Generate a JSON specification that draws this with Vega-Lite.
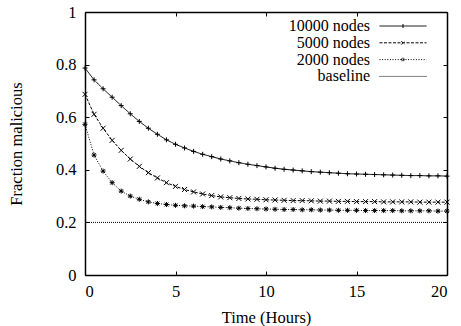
{
  "$schema": "https://vega.github.io/schema/vega-lite/v6.json",
  "autosize": "none",
  "width": 362,
  "height": 263,
  "padding": {"left": 85, "top": 12, "right": 14, "bottom": 51},
  "background": "white",
  "config": {
    "view": {"stroke": null},
    "font": "Liberation Serif",
    "axis": {
      "labelFont": "Liberation Serif",
      "titleFont": "Liberation Serif",
      "labelFontSize": 16.5,
      "titleFontSize": 16.5,
      "labelColor": "black",
      "titleColor": "black",
      "titleFontWeight": "normal",
      "grid": false,
      "domainColor": "black",
      "domainWidth": 1.5,
      "tickColor": "black",
      "tickWidth": 1,
      "tickSize": -4
    },
    "legend": {
      "labelFont": "Liberation Serif",
      "labelFontSize": 16.5,
      "labelColor": "black"
    }
  },
  "datasets": {
    "curves": [
      {"series":"10000 nodes","t":0,"v":0.787},{"series":"10000 nodes","t":0.5,"v":0.742},{"series":"10000 nodes","t":1,"v":0.708},{"series":"10000 nodes","t":1.5,"v":0.676},{"series":"10000 nodes","t":2,"v":0.644},{"series":"10000 nodes","t":2.5,"v":0.613},{"series":"10000 nodes","t":3,"v":0.584},{"series":"10000 nodes","t":3.5,"v":0.558},{"series":"10000 nodes","t":4,"v":0.535},{"series":"10000 nodes","t":4.5,"v":0.514},{"series":"10000 nodes","t":5,"v":0.497},{"series":"10000 nodes","t":5.5,"v":0.483},{"series":"10000 nodes","t":6,"v":0.470},{"series":"10000 nodes","t":6.5,"v":0.459},{"series":"10000 nodes","t":7,"v":0.450},{"series":"10000 nodes","t":7.5,"v":0.441},{"series":"10000 nodes","t":8,"v":0.434},{"series":"10000 nodes","t":8.5,"v":0.427},{"series":"10000 nodes","t":9,"v":0.421},{"series":"10000 nodes","t":9.5,"v":0.416},{"series":"10000 nodes","t":10,"v":0.411},{"series":"10000 nodes","t":10.5,"v":0.406},{"series":"10000 nodes","t":11,"v":0.402},{"series":"10000 nodes","t":11.5,"v":0.399},{"series":"10000 nodes","t":12,"v":0.396},{"series":"10000 nodes","t":12.5,"v":0.393},{"series":"10000 nodes","t":13,"v":0.391},{"series":"10000 nodes","t":13.5,"v":0.389},{"series":"10000 nodes","t":14,"v":0.387},{"series":"10000 nodes","t":14.5,"v":0.385},{"series":"10000 nodes","t":15,"v":0.384},{"series":"10000 nodes","t":15.5,"v":0.383},{"series":"10000 nodes","t":16,"v":0.382},{"series":"10000 nodes","t":16.5,"v":0.381},{"series":"10000 nodes","t":17,"v":0.380},{"series":"10000 nodes","t":17.5,"v":0.379},{"series":"10000 nodes","t":18,"v":0.378},{"series":"10000 nodes","t":18.5,"v":0.378},{"series":"10000 nodes","t":19,"v":0.377},{"series":"10000 nodes","t":19.5,"v":0.377},{"series":"10000 nodes","t":20,"v":0.376},
      {"series":"5000 nodes","t":0,"v":0.687},{"series":"5000 nodes","t":0.5,"v":0.611},{"series":"5000 nodes","t":1,"v":0.558},{"series":"5000 nodes","t":1.5,"v":0.512},{"series":"5000 nodes","t":2,"v":0.474},{"series":"5000 nodes","t":2.5,"v":0.441},{"series":"5000 nodes","t":3,"v":0.413},{"series":"5000 nodes","t":3.5,"v":0.389},{"series":"5000 nodes","t":4,"v":0.369},{"series":"5000 nodes","t":4.5,"v":0.351},{"series":"5000 nodes","t":5,"v":0.337},{"series":"5000 nodes","t":5.5,"v":0.325},{"series":"5000 nodes","t":6,"v":0.316},{"series":"5000 nodes","t":6.5,"v":0.308},{"series":"5000 nodes","t":7,"v":0.302},{"series":"5000 nodes","t":7.5,"v":0.297},{"series":"5000 nodes","t":8,"v":0.294},{"series":"5000 nodes","t":8.5,"v":0.291},{"series":"5000 nodes","t":9,"v":0.289},{"series":"5000 nodes","t":9.5,"v":0.288},{"series":"5000 nodes","t":10,"v":0.286},{"series":"5000 nodes","t":10.5,"v":0.285},{"series":"5000 nodes","t":11,"v":0.284},{"series":"5000 nodes","t":11.5,"v":0.283},{"series":"5000 nodes","t":12,"v":0.283},{"series":"5000 nodes","t":12.5,"v":0.282},{"series":"5000 nodes","t":13,"v":0.281},{"series":"5000 nodes","t":13.5,"v":0.281},{"series":"5000 nodes","t":14,"v":0.280},{"series":"5000 nodes","t":14.5,"v":0.280},{"series":"5000 nodes","t":15,"v":0.279},{"series":"5000 nodes","t":15.5,"v":0.279},{"series":"5000 nodes","t":16,"v":0.279},{"series":"5000 nodes","t":16.5,"v":0.278},{"series":"5000 nodes","t":17,"v":0.278},{"series":"5000 nodes","t":17.5,"v":0.278},{"series":"5000 nodes","t":18,"v":0.278},{"series":"5000 nodes","t":18.5,"v":0.277},{"series":"5000 nodes","t":19,"v":0.277},{"series":"5000 nodes","t":19.5,"v":0.277},{"series":"5000 nodes","t":20,"v":0.277},
      {"series":"2000 nodes","t":0,"v":0.573},{"series":"2000 nodes","t":0.5,"v":0.456},{"series":"2000 nodes","t":1,"v":0.395},{"series":"2000 nodes","t":1.5,"v":0.351},{"series":"2000 nodes","t":2,"v":0.319},{"series":"2000 nodes","t":2.5,"v":0.300},{"series":"2000 nodes","t":3,"v":0.288},{"series":"2000 nodes","t":3.5,"v":0.278},{"series":"2000 nodes","t":4,"v":0.272},{"series":"2000 nodes","t":4.5,"v":0.268},{"series":"2000 nodes","t":5,"v":0.265},{"series":"2000 nodes","t":5.5,"v":0.263},{"series":"2000 nodes","t":6,"v":0.262},{"series":"2000 nodes","t":6.5,"v":0.260},{"series":"2000 nodes","t":7,"v":0.259},{"series":"2000 nodes","t":7.5,"v":0.257},{"series":"2000 nodes","t":8,"v":0.256},{"series":"2000 nodes","t":8.5,"v":0.254},{"series":"2000 nodes","t":9,"v":0.253},{"series":"2000 nodes","t":9.5,"v":0.252},{"series":"2000 nodes","t":10,"v":0.251},{"series":"2000 nodes","t":10.5,"v":0.250},{"series":"2000 nodes","t":11,"v":0.249},{"series":"2000 nodes","t":11.5,"v":0.249},{"series":"2000 nodes","t":12,"v":0.248},{"series":"2000 nodes","t":12.5,"v":0.248},{"series":"2000 nodes","t":13,"v":0.247},{"series":"2000 nodes","t":13.5,"v":0.247},{"series":"2000 nodes","t":14,"v":0.246},{"series":"2000 nodes","t":14.5,"v":0.246},{"series":"2000 nodes","t":15,"v":0.246},{"series":"2000 nodes","t":15.5,"v":0.245},{"series":"2000 nodes","t":16,"v":0.245},{"series":"2000 nodes","t":16.5,"v":0.245},{"series":"2000 nodes","t":17,"v":0.245},{"series":"2000 nodes","t":17.5,"v":0.244},{"series":"2000 nodes","t":18,"v":0.244},{"series":"2000 nodes","t":18.5,"v":0.244},{"series":"2000 nodes","t":19,"v":0.244},{"series":"2000 nodes","t":19.5,"v":0.243},{"series":"2000 nodes","t":20,"v":0.243},
      {"series":"baseline","t":0,"v":0.2},{"series":"baseline","t":20,"v":0.2}
    ]
  },
  "data": {"name": "curves"},
  "layer": [
    {
      "mark": {"type": "line", "color": "black", "strokeWidth": 1},
      "encoding": {
        "x": {"field": "t", "type": "quantitative", "scale": {"domain": [0, 20], "nice": false},
              "axis": {"orient": "bottom", "values": [0, 5, 10, 15, 20], "title": "Time (Hours)", "titleFontWeight": "normal", "titleFont": "Liberation Serif", "labelFont": "Liberation Serif", "labelPadding": 12, "titlePadding": 10}},
        "y": {"field": "v", "type": "quantitative", "scale": {"domain": [0, 1], "nice": false},
              "axis": {"orient": "left", "values": [0, 0.2, 0.4, 0.6, 0.8, 1], "format": "~g", "title": "Fraction malicious", "titleFontWeight": "normal", "titleFont": "Liberation Serif", "labelFont": "Liberation Serif", "labelPadding": 13, "titlePadding": 31}},
        "strokeDash": {
          "field": "series", "type": "nominal",
          "scale": {"domain": ["10000 nodes", "5000 nodes", "2000 nodes", "baseline"], "range": [[1, 0], [3, 1.5], [1, 1.6], [1, 1]]},
          "legend": {
            "title": null,
            "orient": "none",
            "legendX": 310,
            "legendY": 6,
            "symbolType": "M-4.7,0H4.7",
            "symbolSize": 100,
            "symbolStrokeColor": "black",
            "symbolStrokeWidth": 1,
            "labelAlign": "right",
            "labelOffset": -41,
            "labelFontSize": 16,
            "rowPadding": 0.8,
            "encode": {
              "symbols": {
                "update": {
                  "shape": {"signal": "datum.value === '10000 nodes' ? 'M-4.7,0H4.7M0,-0.4V0.4' : datum.value === '5000 nodes' ? 'M-4.7,0H4.7M-0.35,-0.35L0.35,0.35M-0.35,0.35L0.35,-0.35' : datum.value === '2000 nodes' ? 'M-4.7,0H4.7M-0.4,0H0.4M0,-0.4V0.4M-0.3,-0.3L0.3,0.3M-0.3,0.3L0.3,-0.3' : 'M-4.7,0H4.7'"},
                  "fill": {"value": "transparent"},
                  "stroke": {"value": "black"},
                  "strokeWidth": {"value": 1}
                }
              }
            }
          }
        }
      }
    },
    {
      "transform": [{"filter": "datum.series !== 'baseline'"}],
      "mark": {"type": "point", "filled": false, "color": "black", "strokeWidth": 1, "opacity": 1, "size": 25},
      "encoding": {
        "x": {"field": "t", "type": "quantitative",
              "axis": {"orient": "top", "values": [0, 5, 10, 15, 20], "labels": false, "title": null}},
        "y": {"field": "v", "type": "quantitative",
              "axis": {"orient": "right", "values": [0, 0.2, 0.4, 0.6, 0.8, 1], "labels": false, "title": null}},
        "shape": {
          "field": "series", "type": "nominal",
          "scale": {"domain": ["10000 nodes", "5000 nodes", "2000 nodes"],
                    "range": ["M-1,0H1M0,-1V1", "M-1,-1L1,1M-1,1L1,-1", "M-1,0H1M0,-1V1M-0.75,-0.75L0.75,0.75M-0.75,0.75L0.75,-0.75"]},
          "legend": null
        }
      }
    }
  ],
  "resolve": {"axis": {"x": "independent", "y": "independent"}}
}
